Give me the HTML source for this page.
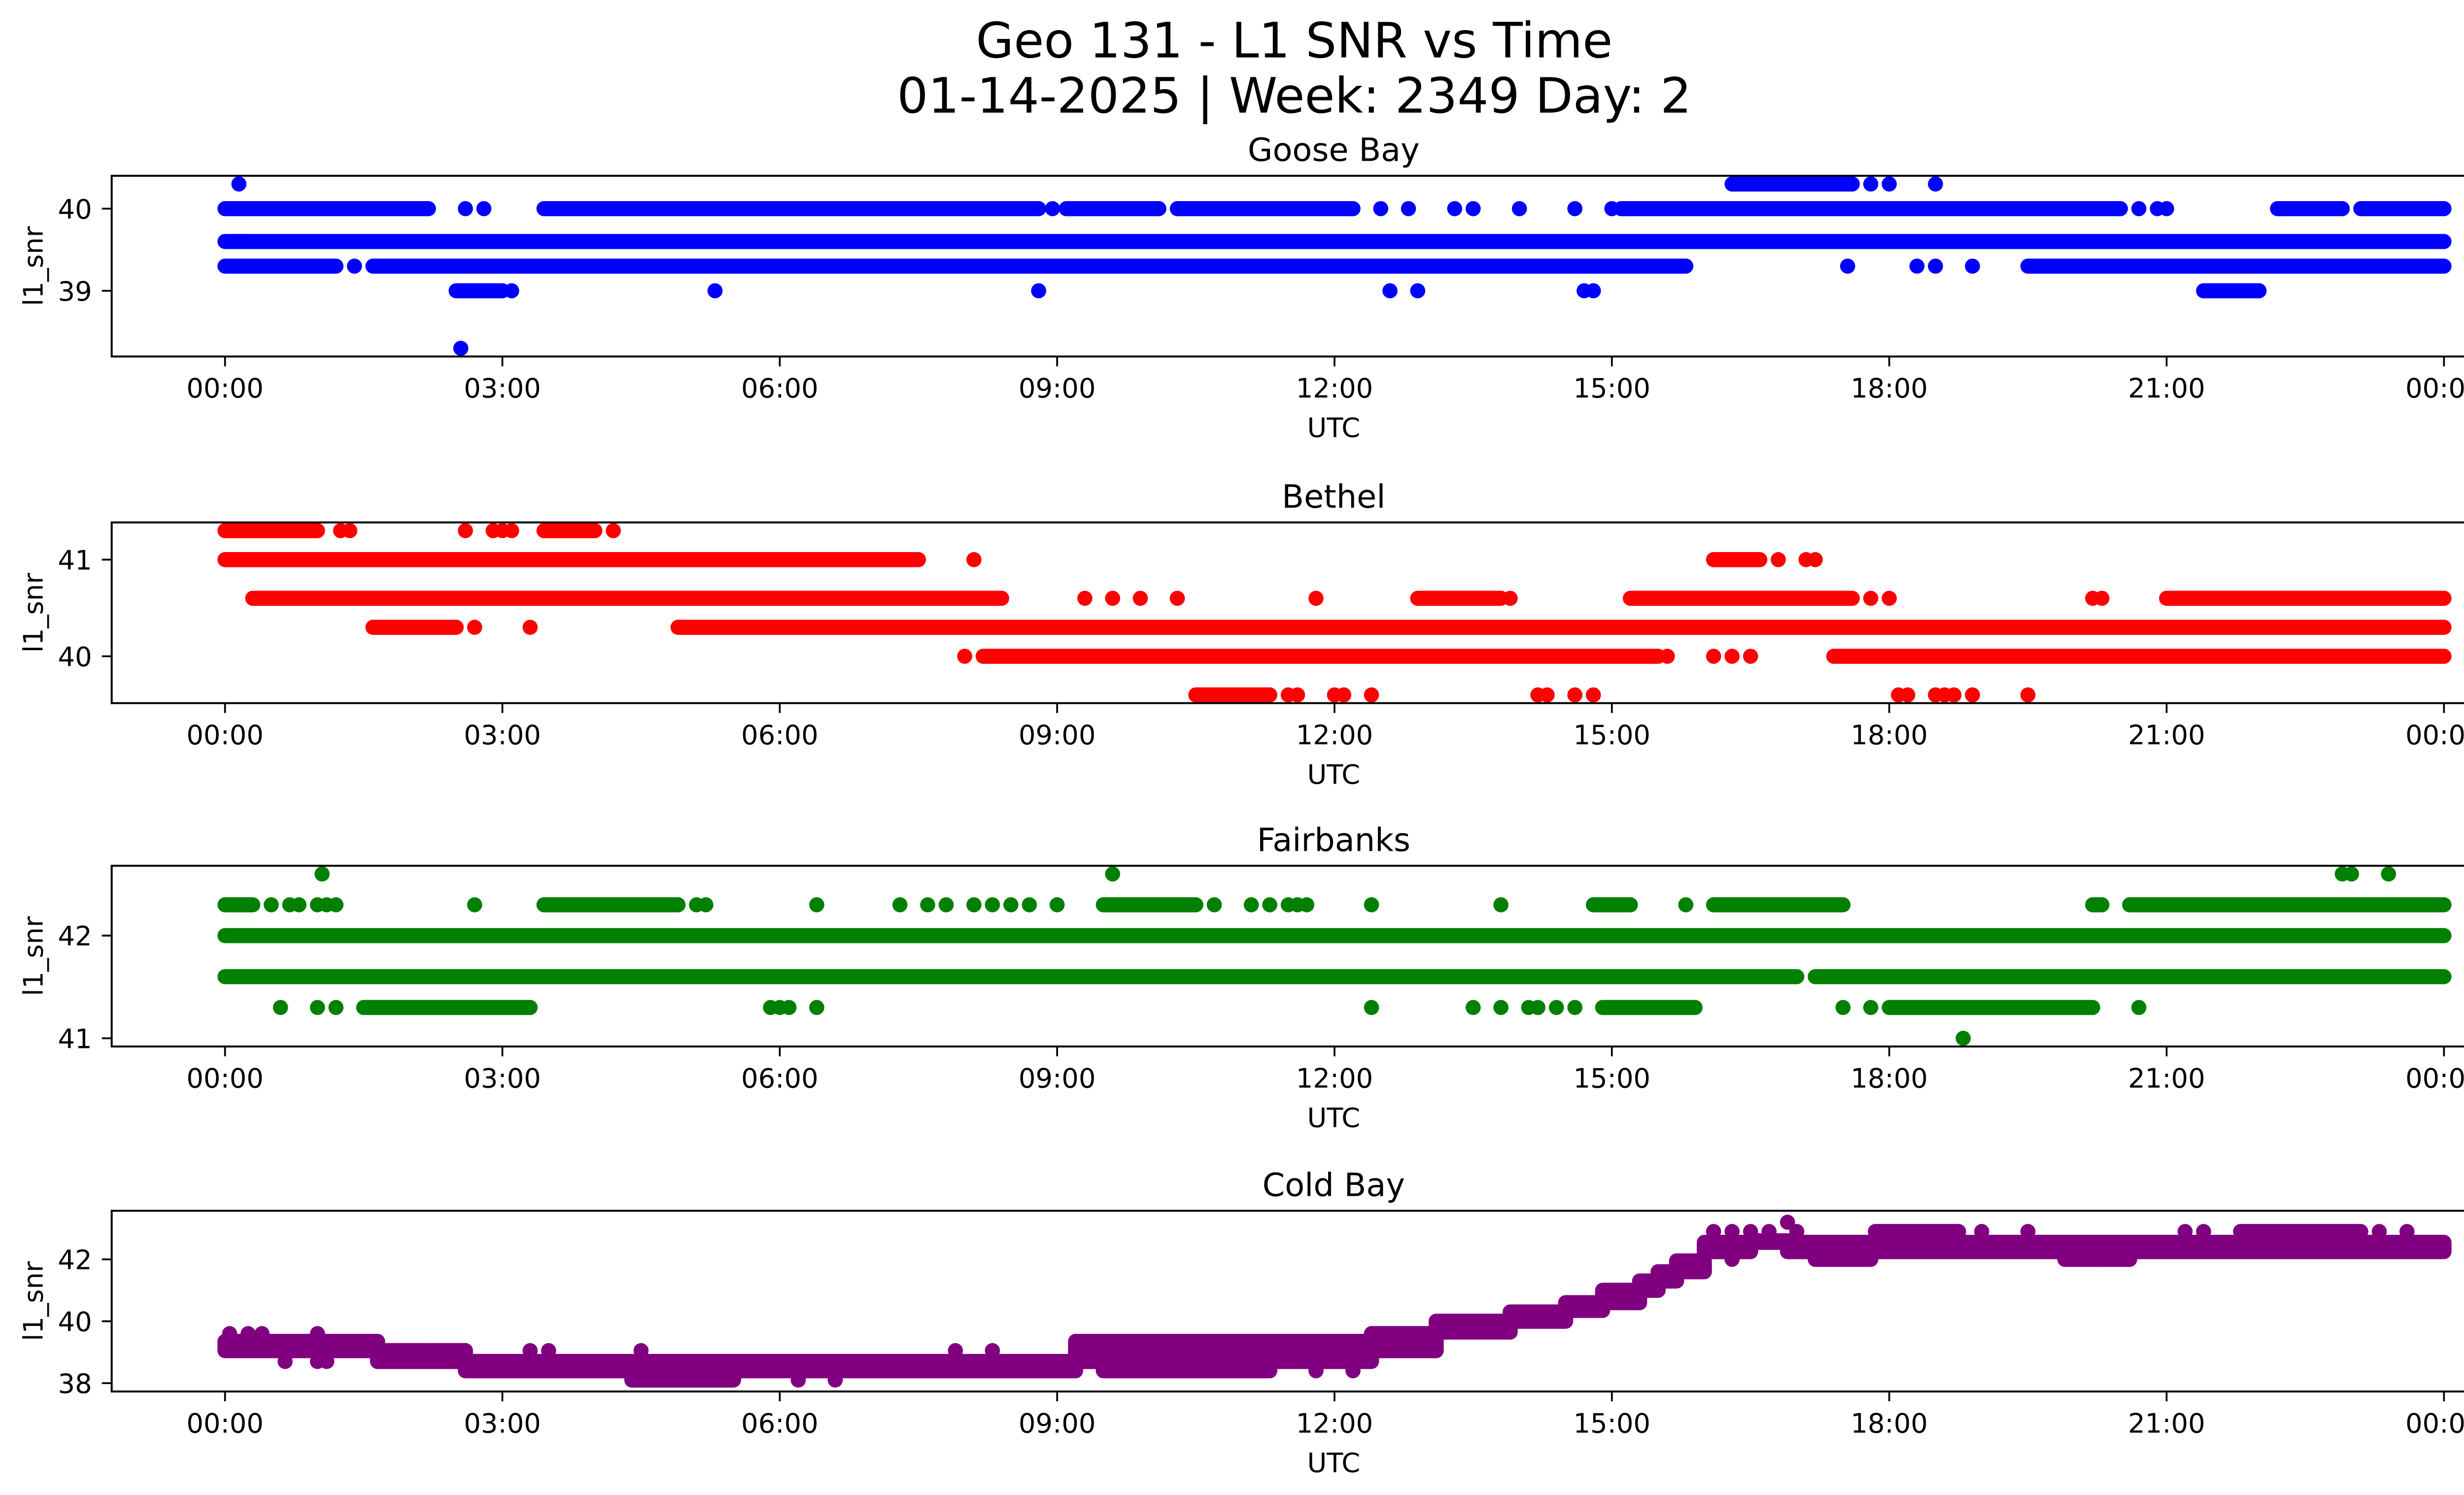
<!DOCTYPE html>
<html><head><meta charset="utf-8"><style>
html,body{margin:0;padding:0;background:#fff}
svg{display:block;font-family:"DejaVu Sans","Liberation Sans",sans-serif}
</style></head><body>
<svg id="fig" xmlns="http://www.w3.org/2000/svg" width="5226" height="3033" viewBox="0 0 1568 910">
<rect width="1568" height="910" fill="#fff"/>
<text x="788" y="35" font-size="29.8" text-anchor="middle">Geo 131 - L1 SNR vs Time</text>
<text x="788" y="68.5" font-size="29.8" text-anchor="middle">01-14-2025 | Week: 2349 Day: 2</text>
<g id="plots"></g>
</svg>
<script>
// ---- data: runs are [startHour, endHour, snr]; points are [hour, snr]
const gooseRuns = [[0,24,39.6],[0,2.2,40],[3.45,8.8,40],[9.1,10.1,40],[10.3,12.2,40],[15.1,20.5,40],[22.2,22.9,40],[23.1,24,40],[16.3,17.6,40.3],[0,1.2,39.3],[1.6,15.8,39.3],[19.5,24,39.3],[2.5,3.0,39],[21.4,22.0,39]];
const goosePoints = [[0.15,40.3],[2.6,40],[2.8,40],[8.95,40],[9.3,40],[12.5,40],[12.8,40],[13.3,40],[13.5,40],[14.0,40],[14.6,40],[15.0,40],[20.7,40],[20.9,40],[21.0,40],[17.8,40.3],[18.0,40.3],[18.5,40.3],[1.4,39.3],[17.55,39.3],[18.3,39.3],[18.5,39.3],[18.9,39.3],[5.3,39],[8.8,39],[12.6,39],[12.9,39],[14.7,39],[14.8,39],[3.1,39],[2.55,38.3]];
const bethelRuns = [[0,1.0,41.3],[3.45,4.0,41.3],[0,7.5,41],[16.1,16.6,41],[0.3,8.4,40.6],[12.9,13.8,40.6],[15.2,17.6,40.6],[21.0,24,40.6],[1.6,2.5,40.3],[4.9,24,40.3],[8.2,15.5,40],[17.4,24,40],[10.5,11.3,39.6]];
const bethelPoints = [[1.25,41.3],[1.35,41.3],[2.6,41.3],[2.9,41.3],[3.0,41.3],[3.1,41.3],[4.2,41.3],[8.1,41],[16.8,41],[17.1,41],[17.2,41],[9.3,40.6],[9.6,40.6],[9.9,40.6],[10.3,40.6],[11.8,40.6],[13.9,40.6],[17.8,40.6],[18.0,40.6],[20.2,40.6],[20.3,40.6],[2.7,40.3],[3.3,40.3],[8.0,40],[15.6,40],[16.1,40],[16.3,40],[16.5,40],[11.5,39.6],[11.6,39.6],[12.0,39.6],[12.1,39.6],[12.4,39.6],[14.2,39.6],[14.3,39.6],[14.6,39.6],[14.8,39.6],[18.1,39.6],[18.2,39.6],[18.5,39.6],[18.6,39.6],[18.7,39.6],[18.9,39.6],[19.5,39.6]];
const fairRuns = [[0,0.3,42.3],[3.45,4.9,42.3],[9.5,10.5,42.3],[14.8,15.2,42.3],[16.1,17.5,42.3],[20.2,20.3,42.3],[20.6,24,42.3],[0,24,42],[0,17.0,41.6],[17.2,24,41.6],[1.5,3.3,41.3],[14.9,15.9,41.3],[18.0,20.2,41.3]];
const fairPoints = [[1.05,42.6],[9.6,42.6],[22.9,42.6],[23.0,42.6],[23.4,42.6],[0.5,42.3],[0.7,42.3],[0.8,42.3],[1.0,42.3],[1.1,42.3],[1.2,42.3],[2.7,42.3],[5.1,42.3],[5.2,42.3],[6.4,42.3],[7.3,42.3],[7.6,42.3],[7.8,42.3],[8.1,42.3],[8.3,42.3],[8.5,42.3],[8.7,42.3],[9.0,42.3],[10.7,42.3],[11.1,42.3],[11.3,42.3],[11.5,42.3],[11.6,42.3],[11.7,42.3],[12.4,42.3],[13.8,42.3],[15.8,42.3],[0.6,41.3],[1.0,41.3],[1.2,41.3],[5.9,41.3],[6.0,41.3],[6.1,41.3],[6.4,41.3],[12.4,41.3],[13.5,41.3],[13.8,41.3],[14.1,41.3],[14.2,41.3],[14.4,41.3],[14.6,41.3],[17.5,41.3],[17.8,41.3],[20.7,41.3],[18.8,41.0]];
// Cold Bay dense bands: [startHour, endHour, lowSnr, highSnr]
const coldBands = [[0,1.65,39.05,39.35],[1.65,2.6,38.7,39.05],[2.6,9.2,38.4,38.7],[4.4,5.5,38.1,38.4],[9.2,12.4,38.7,39.35],[9.5,11.3,38.4,38.7],[12.4,13.1,39.05,39.6],[13.1,13.9,39.65,40.0],[13.9,14.5,40.0,40.3],[14.5,14.9,40.35,40.6],[14.9,15.3,40.6,41.0],[15.3,15.5,41.0,41.3],[15.5,15.7,41.3,41.6],[15.7,16.0,41.6,41.95],[16.0,16.5,42.25,42.55],[16.5,16.9,42.55,42.6],[16.9,24,42.25,42.55],[17.2,17.8,42.0,42.25],[19.9,20.6,42.0,42.25],[17.85,18.75,42.9,42.9],[21.8,23.1,42.9,42.9]];
const coldPoints = [[0.05,39.6],[0.25,39.6],[0.4,39.6],[1.0,39.6],[0.65,38.7],[1.0,38.7],[1.1,38.7],[2.2,39.05],[2.6,39.05],[3.3,39.05],[3.5,39.05],[4.5,39.05],[6.2,38.1],[6.6,38.1],[7.9,39.05],[8.3,39.05],[11.8,38.4],[12.2,38.4],[16.1,42.9],[16.3,42.9],[16.5,42.9],[16.7,42.9],[17.0,42.9],[16.9,43.2],[19.0,42.9],[19.5,42.9],[21.2,42.9],[21.4,42.9],[23.3,42.9],[23.6,42.9],[16.3,42.0],[20.3,42.0]];
const xTickHours = [0,3,6,9,12,15,18,21,24];
const xTickLabels = ["00:00","03:00","06:00","09:00","12:00","15:00","18:00","21:00","00:00"];

const NS="http://www.w3.org/2000/svg";
const root=document.getElementById('plots');
function mk(tag,attrs,parent){const e=document.createElementNS(NS,tag);for(const k in attrs)e.setAttribute(k,attrs[k]);(parent||root).appendChild(e);return e;}
const X0=68,X1=1556,H0=137,H1=1488;
const xs=h=>H0+(h/24)*(H1-H0);
const R=4.6;
const FS=16.3;

const panels=[
 {name:'goose-bay',title:'Goose Bay',top:107,ymin:38.2,ymax:40.4,ticks:[39,40],color:'#0000ff',runs:gooseRuns,pts:goosePoints},
 {name:'bethel',title:'Bethel',top:318,ymin:39.515,ymax:41.385,ticks:[40,41],color:'#ff0000',runs:bethelRuns,pts:bethelPoints},
 {name:'fairbanks',title:'Fairbanks',top:527,ymin:40.92,ymax:42.68,ticks:[41,42],color:'#008000',runs:fairRuns,pts:fairPoints},
 {name:'cold-bay',title:'Cold Bay',top:737,ymin:37.73,ymax:43.57,ticks:[38,40,42],color:'#800080',band:true,pts:coldPoints}
];
const PH=110;
panels.forEach(p=>{
  const g=mk('g',{});
  
  
  const ys=v=>p.top+PH-(v-p.ymin)/(p.ymax-p.ymin)*PH;
  const cp='clip-'+p.name;
  const cpe=mk('clipPath',{id:cp},g);mk('rect',{x:X0,y:p.top,width:X1-X0,height:PH},cpe);
  const dg=mk('g',{'clip-path':'url(#'+cp+')'},g);
  
  
  if(p.band){
    coldBands.forEach(b=>{
      const x1=xs(b[0]),x2=xs(b[1]),yt=ys(b[3]),yb=ys(b[2]);
      const r=mk('rect',{x:x1-R,y:yt-R,width:x2-x1+2*R,height:yb-yt+2*R,rx:R,ry:R,fill:p.color},dg);
      
      
    });
  } else {
    p.runs.forEach(r=>{
      const l=mk('line',{x1:xs(r[0]),x2:xs(r[1]),y1:ys(r[2]),y2:ys(r[2]),stroke:p.color,'stroke-width':2*R,'stroke-linecap':'round'},dg);
      
      
    });
  }
  p.pts.forEach(q=>{
    const c=mk('circle',{cx:xs(q[0]),cy:ys(q[1]),r:R,fill:p.color},dg);
    
    
  });
  const fr=mk('rect',{x:X0,y:p.top,width:X1-X0,height:PH,fill:'none',stroke:'#000','stroke-width':1.2},g);
  
  
  const t=mk('text',{x:(X0+X1)/2,y:p.top-9,'font-size':'19.6','text-anchor':'middle'},g);
  t.textContent=p.title;
  
  
  xTickHours.forEach((h,i)=>{
    mk('line',{x1:xs(h),x2:xs(h),y1:p.top+PH,y2:p.top+PH+6,stroke:'#000','stroke-width':1.1},g);
    const tl=mk('text',{x:xs(h),y:p.top+PH+25,'font-size':FS,'text-anchor':'middle'},g);
    tl.textContent=xTickLabels[i];
    
    
  });
  p.ticks.forEach(v=>{
    mk('line',{x1:X0-6,x2:X0,y1:ys(v),y2:ys(v),stroke:'#000','stroke-width':1.1},g);
    const tl=mk('text',{x:X0-12,y:ys(v)+6,'font-size':FS,'text-anchor':'end'},g);
    tl.textContent=String(v);
    
    
  });
  const xl=mk('text',{x:(X0+X1)/2,y:p.top+PH+49,'font-size':FS,'text-anchor':'middle'},g);
  xl.textContent='UTC';
  
  
  const yl=mk('text',{x:0,y:0,'font-size':FS,'text-anchor':'middle',transform:'translate(26,'+(p.top+PH/2)+') rotate(-90)'},g);
  yl.textContent='l1_snr';
  
  
});
</script>
</body></html>
